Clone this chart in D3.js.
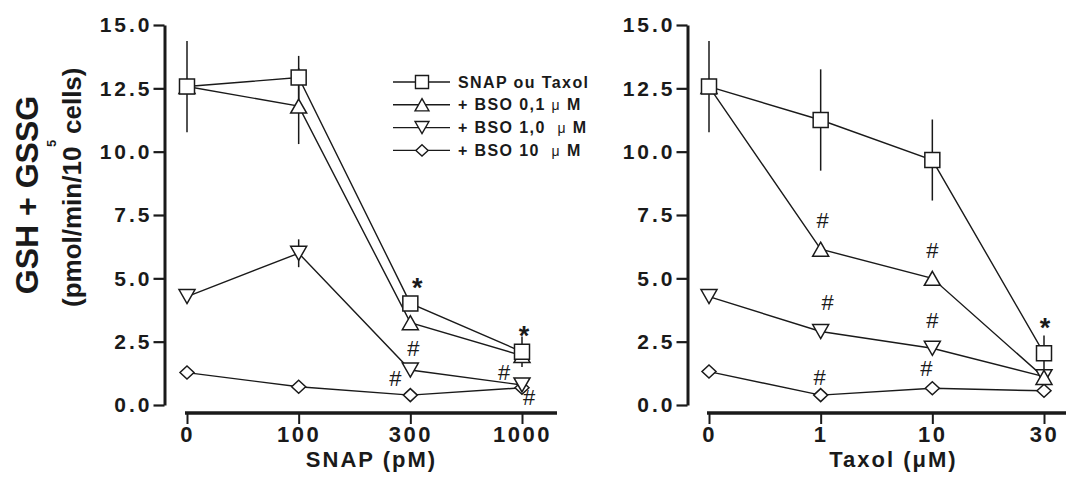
<!DOCTYPE html>
<html>
<head>
<meta charset="utf-8">
<script src="https://cdn.jsdelivr.net/npm/d3@7"></script>
<style>
    body { margin: 0; background: #fff; }
    svg { display: block; font-family: "Liberation Sans", Arial, sans-serif; }
</style>
</head>
<body>
<svg width="1066" height="491"></svg>
<script>
const snapDoses = ["0", "100", "300", "1000"];
const taxolDoses = ["0", "1", "10", "30"];
const yTicks = [0, 2.5, 5, 7.5, 10, 12.5, 15];

const seriesNames = ["SNAP ou Taxol", "+ BSO 0,1 μ M", "+ BSO 1,0  μ M", "+ BSO 10  μ M"];
const seriesShapes = ["square", "triangle", "triangleDown", "diamond"];

// SNAP panel
const snapControl = [12.57, 12.93, 4.01, 2.10];
const snapBso01 = [12.57, 11.80, 3.25, 1.95];
const snapBso1 = [4.28, 5.99, 1.38, 0.79];
const snapBso10 = [1.28, 0.72, 0.39, 0.68];
const snapControlErr = [1.8, 0.85, 0, 0.6];
const snapBso01Err = [0, 1.5, 0, 0];
const snapBso1Err = [0, 0.55, 0, 0];
const snapBso10Err = [0, 0, 0, 0];
// [dose index, value, symbol, nudge]
const snapMarks = [[2, 4.87, "*", 7], [2, 2.25, "#", 3], [2, 1.07, "#", -15],
                   [3, 2.96, "*", 2], [3, 1.31, "#", -18], [3, 0.33, "#", 7]];

// Taxol panel
const taxolControl = [12.57, 11.25, 9.67, 2.04];
const taxolBso01 = [12.57, 6.15, 5.00, 1.09];
const taxolBso1 = [4.28, 2.90, 2.24, 1.12];
const taxolBso10 = [1.32, 0.39, 0.66, 0.56];
const taxolControlErr = [1.8, 2.0, 1.6, 0.7];
const taxolBso01Err = [0, 0, 0, 0];
const taxolBso1Err = [0, 0, 0, 0];
const taxolBso10Err = [0, 0, 0, 0];
const taxolMarks = [[1, 7.30, "#", 2], [2, 6.12, "#", 0], [1, 4.08, "#", 7], [2, 3.36, "#", 0],
                    [1, 1.12, "#", -1], [2, 1.45, "#", -6], [3, 3.29, "*", 1]];

const shapes = {
    square: "M-7.5,-7.5H7.5V7.5H-7.5Z",
    triangle: "M0,-7L8,7H-8Z",
    triangleDown: "M0,7L8,-7H-8Z",
    diamond: "M0,-6.5L7,0L0,6.5L-7,0Z"
};

const ink = "#1a1a1a";
const svg = d3.select("svg");

class Panel {
    constructor(doses, series, errors, marks, axisX, plotLeft, axisEnd, title) {
        this.doses = doses;
        this.series = series;
        this.errors = errors;
        this.marks = marks;
        this.axisX = axisX;
        this.plotLeft = plotLeft;
        this.axisEnd = axisEnd;
        this.title = title;
    }

    init() {
        this.group = svg.append("g");
        this.x = d3.scalePoint().domain(this.doses).range([this.plotLeft, this.plotLeft + 335]);
        this.y = d3.scaleLinear().domain([0, 15]).range([405, 25]);

        this.drawAxes();
        this.drawSeries();
        this.drawMarks();
    }

    drawAxes() {
        var yAxis = this.group.append("g")
            .attr("transform", "translate(" + this.axisX + ",0)")
            .call(d3.axisLeft(this.y).tickValues(yTicks).tickFormat(d3.format(".1f"))
                .tickSize(11).tickSizeOuter(0).tickPadding(1));
        yAxis.select(".domain").attr("stroke", ink).attr("stroke-width", 3);
        yAxis.selectAll(".tick line").attr("stroke", ink).attr("stroke-width", 2.2);
        yAxis.selectAll(".tick text")
            .attr("fill", ink)
            .style("font-size", "21px")
            .style("font-weight", "bold")
            .style("letter-spacing", "3px");

        var xAxis = this.group.append("g")
            .attr("transform", "translate(0,413)")
            .call(d3.axisBottom(this.x).tickSize(11).tickPadding(2));
        xAxis.select(".domain").remove();
        xAxis.selectAll(".tick line").attr("stroke", ink).attr("stroke-width", 2);
        xAxis.selectAll(".tick text")
            .attr("fill", ink)
            .style("font-size", "22px")
            .style("font-weight", "bold")
            .style("letter-spacing", "2.5px");

        this.group.append("line")
            .attr("x1", this.x(this.doses[0]) - 2)
            .attr("x2", this.axisEnd)
            .attr("y1", 413)
            .attr("y2", 413)
            .attr("stroke", ink)
            .attr("stroke-width", 3.5);

        this.group.append("text")
            .attr("x", (this.x(this.doses[0]) + this.x(this.doses[3])) / 2 + 17)
            .attr("y", 467)
            .attr("text-anchor", "middle")
            .attr("fill", ink)
            .style("font-size", "22px")
            .style("font-weight", "bold")
            .style("letter-spacing", "2px")
            .text(this.title);
    }

    drawSeries() {
        var x = this.x, y = this.y, doses = this.doses;
        var line = d3.line().x((d, i) => x(doses[i])).y(d => y(d));

        this.group.selectAll(".series-line")
            .data(this.series)
            .join("path")
            .attr("class", "series-line")
            .attr("d", line)
            .attr("fill", "none")
            .attr("stroke", ink)
            .attr("stroke-width", 1.4);

        this.series.forEach((values, s) => {
            var errs = this.errors[s];
            values.forEach((v, i) => {
                if (!errs[i]) return;
                this.group.append("line")
                    .attr("x1", x(doses[i]))
                    .attr("x2", x(doses[i]))
                    .attr("y1", y(v + errs[i]))
                    .attr("y2", y(v - errs[i]))
                    .attr("stroke", ink)
                    .attr("stroke-width", 1.5);
            });
        });

        // draw from the last series up so the squares sit on top
        for (var s = this.series.length - 1; s >= 0; s--) {
            this.group.selectAll(null)
                .data(this.series[s])
                .join("path")
                .attr("transform", (d, i) => "translate(" + x(doses[i]) + "," + y(d) + ")")
                .attr("d", shapes[seriesShapes[s]])
                .attr("fill", "#fff")
                .attr("stroke", ink)
                .attr("stroke-width", 1.5);
        }
    }

    drawMarks() {
        var x = this.x, y = this.y, doses = this.doses;
        this.group.selectAll(".sig")
            .data(this.marks)
            .join("text")
            .attr("class", "sig")
            .attr("x", d => x(doses[d[0]]) + d[3])
            .attr("y", d => y(d[1]) + (d[2] == "*" ? 15 : 8))
            .attr("text-anchor", "middle")
            .attr("fill", ink)
            .style("font-size", d => d[2] == "*" ? "27px" : "22px")
            .style("font-weight", d => d[2] == "*" ? "bold" : "normal")
            .text(d => d[2]);
    }
}

function drawLegend() {
    var legend = svg.append("g").attr("transform", "translate(393,82)");
    seriesNames.forEach((name, i) => {
        var row = legend.append("g").attr("transform", "translate(0," + (i * 22.8) + ")");
        row.append("line")
            .attr("x1", 0).attr("x2", 57)
            .attr("stroke", ink).attr("stroke-width", 1.4);
        row.append("path")
            .attr("transform", "translate(29,0) scale(0.87)")
            .attr("d", shapes[seriesShapes[i]])
            .attr("fill", "#fff")
            .attr("stroke", ink)
            .attr("stroke-width", 1.6);
        var parts = name.split("μ");
        var label = row.append("text")
            .attr("x", 65)
            .attr("y", 5.6)
            .attr("fill", ink)
            .style("font-size", "16px")
            .style("font-weight", "bold")
            .style("letter-spacing", "1.4px")
            .style("white-space", "pre");
        label.append("tspan").text(parts[0]);
        if (parts.length > 1) {
            label.append("tspan").style("font-weight", "normal").style("font-size", "14px").text("μ");
            label.append("tspan").text(parts[1]);
        }
    });
}

function drawYLabel() {
    var g = svg.append("g").attr("fill", ink).style("font-weight", "bold");
    g.append("text")
        .attr("transform", "translate(38,195) rotate(-90)")
        .attr("text-anchor", "middle")
        .style("font-size", "32px")
        .text("GSH + GSSG");

    g.append("text")
        .attr("transform", "translate(81,307) rotate(-90)")
        .style("font-size", "26px")
        .text("(pmol/min/10");
    g.append("text")
        .attr("transform", "translate(56,147) rotate(-90)")
        .style("font-size", "13px")
        .text("5");
    g.append("text")
        .attr("transform", "translate(81,134) rotate(-90)")
        .style("font-size", "26px")
        .text("cells)");
}

var snapPanel = new Panel(snapDoses,
    [snapControl, snapBso01, snapBso1, snapBso10],
    [snapControlErr, snapBso01Err, snapBso1Err, snapBso10Err],
    snapMarks, 164.5, 187, 557, "SNAP (pM)");
snapPanel.init();

var taxolPanel = new Panel(taxolDoses,
    [taxolControl, taxolBso01, taxolBso1, taxolBso10],
    [taxolControlErr, taxolBso01Err, taxolBso1Err, taxolBso10Err],
    taxolMarks, 687.5, 709, 1066, "Taxol (μM)");
taxolPanel.init();

drawLegend();
drawYLabel();
</script>
</body>
</html>
